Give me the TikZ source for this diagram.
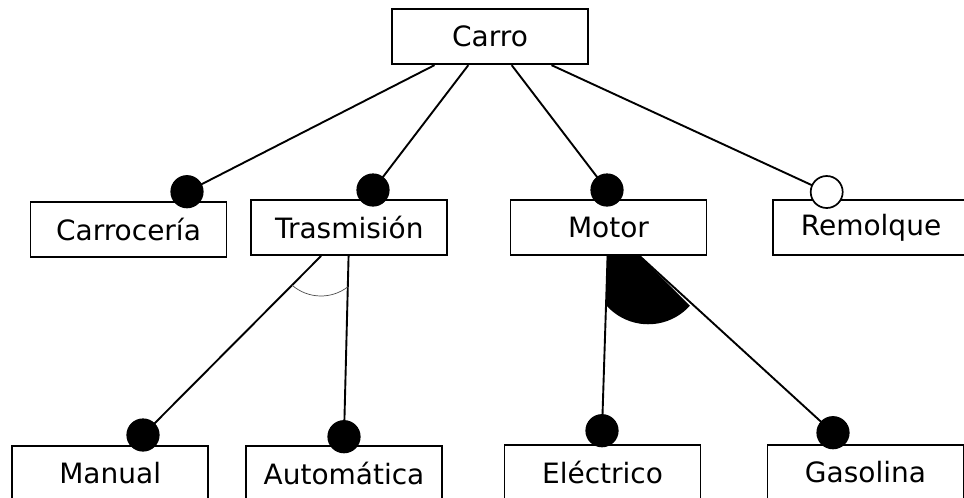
\documentclass[tikz,border=0pt]{standalone}
\usepackage{fontspec}
\setmainfont{DejaVu Sans}
\begin{document}
\begin{tikzpicture}[x=1pt,y=1pt,
  feat/.style={draw=black,line width=1.9pt,fill=white,minimum width=196pt,minimum height=55pt,inner sep=0pt,font=\fontsize{28}{34}\selectfont},
  mand/.style={circle,draw=black,fill=black,line width=1.2pt,minimum size=32pt,inner sep=0pt},
  opt/.style={circle,draw=black,fill=white,line width=1.7pt,minimum size=32pt,inner sep=0pt},
  conn/.style={line width=1.9pt,draw=black}]
\useasboundingbox (0,0) rectangle (964,-498);
\clip (0,0) rectangle (964,-498);
% sector (or-group) under Motor
\fill[black] (607,-255) -- (606,-305) arc[start angle=-139,end angle=-42,radius=56] -- (639,-255) -- cycle;
% boxes
\node[feat] (carro) at (490,-36.7) {Carro};
\node[feat] (carroceria) at (128.5,-229.3) {Carrocería};
\node[feat] (tras) at (349.3,-227.5) {Trasmisión};
\node[feat] (motor) at (608.5,-227.5) {Motor};
\node[feat] (remolque) at (871,-227.5) {Remolque};
\node[feat] (manual) at (110.2,-473.5) {Manual};
\node[feat] (auto) at (344,-473.5) {Automática};
\node[feat] (elec) at (602.5,-472.5) {Eléctrico};
\node[feat] (gas) at (865.5,-472.5) {Gasolina};
% connectors
\draw[conn] (carro) -- (187,-191.7) coordinate (pcar);
\draw[conn] (carro) -- (373,-190) coordinate (ptras);
\draw[conn] (carro) -- (607,-190) coordinate (pmot);
\draw[conn] (carro) -- (826.7,-192) coordinate (prem);
\draw[conn] (tras) -- (143,-435) coordinate (pman);
\draw[conn] (tras) -- (344,-436.7) coordinate (paut);
\draw[conn] (motor) -- (602,-430.7) coordinate (pele);
\draw[conn] (motor) -- (833,-432.7) coordinate (pgas);
% markers
\node[mand] (mcar) at (pcar) {};
\node[mand] (mtras) at (ptras) {};
\node[mand] (mmot) at (pmot) {};
\node[opt] (mrem) at (prem) {};
\node[mand] (mman) at (pman) {};
\node[mand] (maut) at (paut) {};
\node[mand] (mele) at (pele) {};
\node[mand] (mgas) at (pgas) {};
% alternative-group arc under Trasmisión
\draw[black!70,line width=0.7pt] (292.1,-285.2) arc[start angle=-131,end angle=-52,radius=44];
\end{tikzpicture}
\end{document}
